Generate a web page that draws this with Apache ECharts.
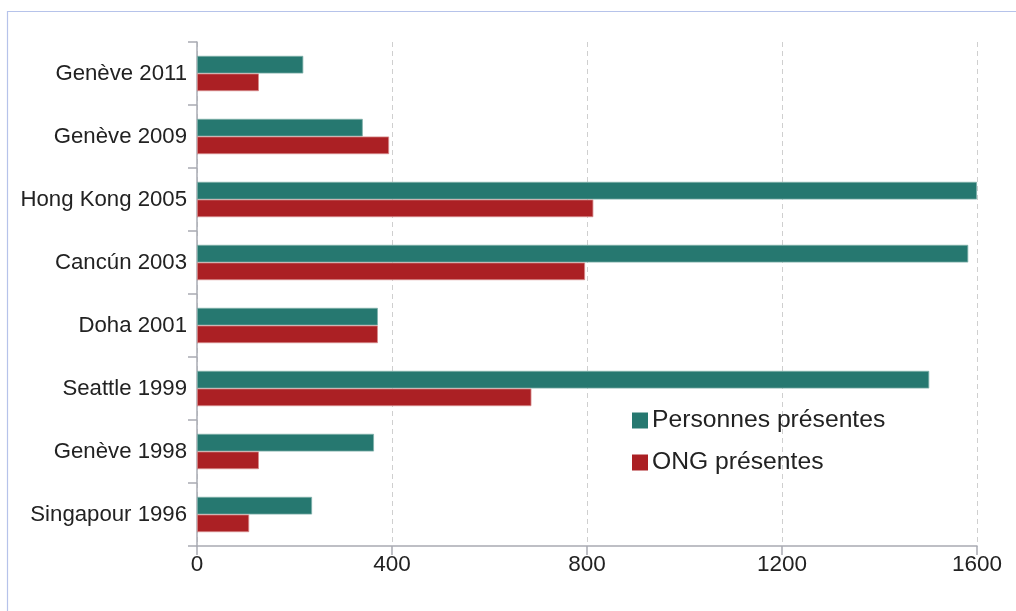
<!DOCTYPE html>
<html><head><meta charset="utf-8">
<script src="https://cdn.jsdelivr.net/npm/echarts@6/dist/echarts.min.js"></script>
<style>html,body{margin:0;padding:0;background:#fff}#c{width:1016px;height:611px}</style>
</head><body><div id="c"></div>
<script>
const categories = ['Genève 2011','Genève 2009','Hong Kong 2005','Cancún 2003','Doha 2001','Seattle 1999','Genève 1998','Singapour 1996'];
const personnes = [218, 340, 1600, 1582, 371, 1502, 363, 236];
const ong = [127, 394, 813, 796, 371, 686, 127, 107];
const xTicks = [0, 400, 800, 1200, 1600];

const font = 'Liberation Sans, Arial, Helvetica, sans-serif';
const chart = echarts.init(document.getElementById('c'), null, {renderer: 'canvas'});
chart.setOption({
  animation: false,
  graphic: [{type: 'rect', shape: {x: 7.5, y: 11.5, width: 1200, height: 800}, style: {fill: 'none', stroke: '#b6c3ea', lineWidth: 1.2}}],
  grid: {left: 197, right: 39, top: 42, bottom: 65, containLabel: false},
  legend: {
    data: ['Personnes présentes', 'ONG présentes'],
    orient: 'vertical', left: 627, top: 403, icon: 'rect', itemWidth: 16, itemHeight: 16, itemGap: 17,
    itemStyle: {borderWidth: 0},
    textStyle: {fontFamily: font, fontSize: 24.7, color: '#222', padding: [0, 0, 0, -1]}
  },
  xAxis: {
    type: 'value', min: xTicks[0], max: xTicks[xTicks.length - 1], interval: 400,
    axisLine: {show: true, lineStyle: {color: '#a9abb3', width: 1.5}},
    axisTick: {show: true, length: 9, lineStyle: {color: '#a9abb3', width: 1.5}},
    axisLabel: {fontFamily: font, fontSize: 22.5, color: '#222', margin: 7, formatter: v => String(v)},
    splitLine: {show: true, lineStyle: {color: '#cfcfcf', type: [5, 4], width: 1}}
  },
  yAxis: {
    type: 'category', data: categories, inverse: true,
    axisLine: {show: true, lineStyle: {color: '#a9abb3', width: 1.5}},
    axisTick: {show: true, length: 9, lineStyle: {color: '#a9abb3', width: 1.5}},
    axisLabel: {fontFamily: font, fontSize: 22.2, color: '#222', margin: 10}
  },
  series: [
    {name: 'Personnes présentes', type: 'bar', data: personnes, barGap: '0%', barCategoryGap: '44%',
     itemStyle: {color: '#267870', borderColor: '#7fb0aa', borderWidth: 0.8}},
    {name: 'ONG présentes', type: 'bar', data: ong, barGap: '0%', barCategoryGap: '44%',
     itemStyle: {color: '#ab2024', borderColor: '#d58a8c', borderWidth: 0.8}}
  ]
});
</script></body></html>
